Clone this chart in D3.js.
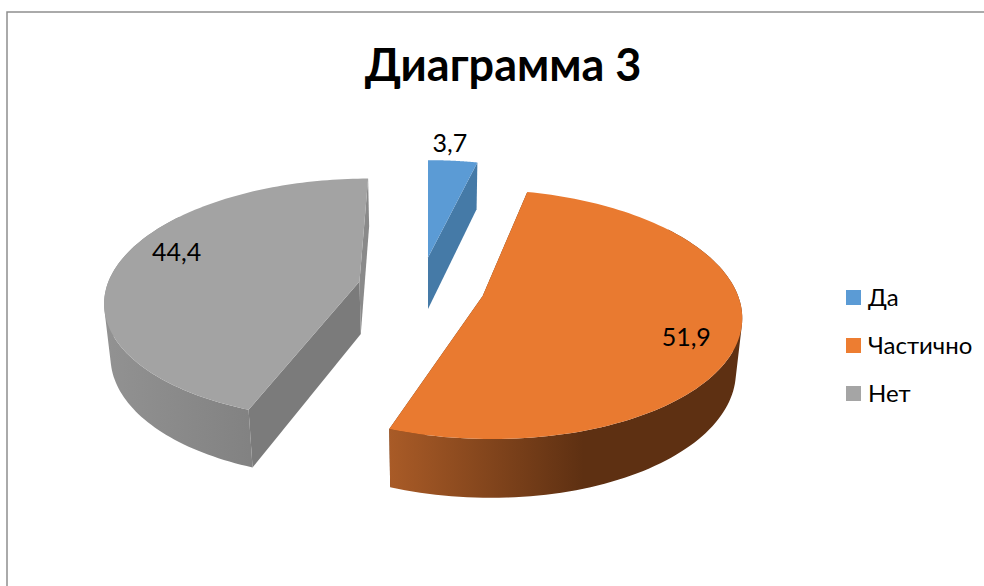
<!DOCTYPE html>
<html>
<head>
<meta charset="utf-8">
<script src="https://cdn.jsdelivr.net/npm/d3@7/dist/d3.min.js"></script>
<style>
body { margin: 0; background: #fff; }
text { font-family: Lato, "Open Sans", sans-serif; fill: #000; }
</style>
</head>
<body>
<svg class="chart"></svg>
<script>
var title = "Диаграмма 3";
var categories = ["Да", "Частично", "Нет"];
var values = [3.7, 51.9, 44.4];
var valueLabels = ["3,7", "51,9", "44,4"];

var width = 984, height = 586;
var topColors = ["#5b9bd5", "#e97a30", "#a3a3a3"];
var legendColors = ["#5b9bd5", "#ed7d31", "#a5a5a5"];
var startFaceColors = ["#2f4f6e", "#5e3012", "#7b7b7b"];
var endFaceColors = ["#457aa7", "#5e3012", "#8a8a8a"];
var wallStops = [
	["#457aa7", "#457aa7"],
	["#a95b27", "#5e3012"],
	["#929292", "#757575"]
];
var wallStopEnd = [1, 0.55, 1];

// how far each slice is pulled out of the pie, in radius units
var shift = [[0, 0.265], [0.214, -0.064], [-0.273, 0.055]];
var labelRadius = [1.205, 0.815, 0.81];
var labelTurn = [-1.65, 6.4, 8.8];

// perspective of the pie plane
var cam = {cx: 428, horizon: -534, focal: 1736, a: 5640, dist: 6.86, depthA: 481, depthW: 0.136};

function project(x, y, z) {
	var w = cam.dist + y + cam.depthW * z;
	return [cam.cx + cam.focal * x / w, cam.horizon + (cam.a + cam.depthA * z) / w];
}

function rimPoint(i, theta, r, z) {
	return project(shift[i][0] + r * Math.sin(theta), shift[i][1] + r * Math.cos(theta), z);
}

var svg = d3.select(".chart")
	.attr("width", width)
	.attr("height", height)
	.style("display", "block");

var defs = svg.append("defs");
var line = d3.line();
var closedLine = d3.line().curve(d3.curveLinearClosed);

var pie = d3.pie().sort(null).value(function(d) { return d; });
var slices = pie(values);

// chart frame, only top and left show in the crop
svg.append("path")
	.attr("d", line([[7, height], [7, 12], [width, 12]]))
	.attr("fill", "none")
	.attr("stroke", "#8e8e8e")
	.attr("stroke-width", 1.5);

svg.append("text")
	.attr("x", 503)
	.attr("y", 81)
	.attr("text-anchor", "middle")
	.style("font-size", "45px")
	.style("font-weight", "bold")
	.text(title);

var slice = svg.selectAll("g.slice")
	.data(slices)
  .enter().append("g")
	.attr("class", "slice");

slice.each(function(d, i) {
	var g = d3.select(this);
	var thetas = d3.range(0, 121).map(function(k) {
		return d.startAngle + (d.endAngle - d.startAngle) * k / 120;
	});

	// radial side faces
	[[d.startAngle, startFaceColors[i]], [d.endAngle, endFaceColors[i]]].forEach(function(f) {
		g.append("path")
			.attr("d", closedLine([
				rimPoint(i, f[0], 0, 0), rimPoint(i, f[0], 1, 0),
				rimPoint(i, f[0], 1, 1), rimPoint(i, f[0], 0, 1)
			]))
			.attr("fill", f[1]);
	});

	// outer wall, quads in one path so the silhouette stays tangent and no seams show
	var front = thetas.filter(function(t) { return Math.cos(t) < 0.6; });
	var xs = d3.extent(thetas, function(t) { return rimPoint(i, t, 1, 0)[0]; });
	var grad = defs.append("linearGradient")
		.attr("id", "wall" + i)
		.attr("gradientUnits", "userSpaceOnUse")
		.attr("x1", xs[0])
		.attr("x2", xs[1])
		.attr("y1", 0)
		.attr("y2", 0);
	grad.append("stop").attr("offset", 0).attr("stop-color", wallStops[i][0]);
	grad.append("stop").attr("offset", wallStopEnd[i]).attr("stop-color", wallStops[i][1]);

	var wall = d3.pairs(front).map(function(p) {
		var quad = [
			rimPoint(i, p[0], 1, 0), rimPoint(i, p[1], 1, 0),
			rimPoint(i, p[1], 1, 1), rimPoint(i, p[0], 1, 1)
		];
		// quads fold over at the silhouette, keep one winding or the overlap drops out
		if (d3.polygonArea(quad) < 0) quad.reverse();
		return closedLine(quad);
	}).join("");
	if (wall) {
		g.append("path")
			.attr("d", wall)
			.attr("fill", "url(#wall" + i + ")");
	}

	// top surface
	var cap = [rimPoint(i, 0, 0, 0)].concat(thetas.map(function(t) { return rimPoint(i, t, 1, 0); }));
	g.append("path")
		.attr("d", closedLine(cap))
		.attr("fill", topColors[i]);
});

slice.append("text")
	.attr("transform", function(d, i) {
		var mid = (d.startAngle + d.endAngle) / 2 + labelTurn[i] * Math.PI / 180;
		return "translate(" + rimPoint(i, mid, labelRadius[i], 0) + ")";
	})
	.attr("dy", ".35em")
	.attr("text-anchor", "middle")
	.style("font-size", "25px")
	.text(function(d, i) { return valueLabels[i]; });

var y = d3.scalePoint().domain(categories).range([297.5, 393.5]);

var legend = svg.selectAll("g.legend")
	.data(categories)
  .enter().append("g")
	.attr("class", "legend")
	.attr("transform", function(d) { return "translate(846," + y(d) + ")"; });

legend.append("rect")
	.attr("y", -7.5)
	.attr("width", 15)
	.attr("height", 15)
	.attr("fill", function(d, i) { return legendColors[i]; });

legend.append("text")
	.attr("x", 22)
	.attr("y", 8)
	.style("font-size", "24px")
	.text(function(d) { return d; });
</script>
</body>
</html>
